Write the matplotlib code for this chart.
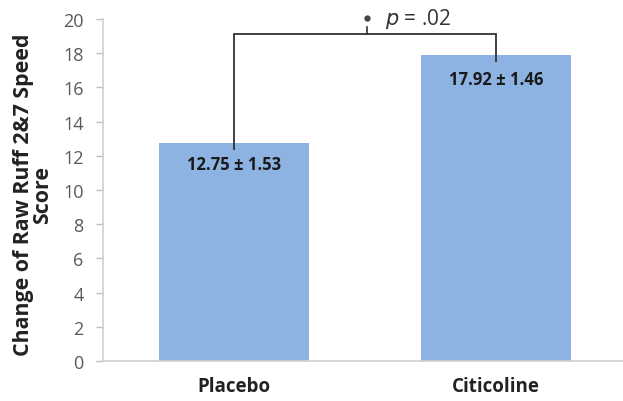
import matplotlib
matplotlib.use("Agg")
import matplotlib.pyplot as plt

categories = ["Placebo", "Citicoline"]
means = [12.75, 17.92]
sems = [1.53, 1.46]
value_labels = ["12.75 ± 1.53", "17.92 ± 1.46"]
yticks = [0, 2, 4, 6, 8, 10, 12, 14, 16, 18, 20]
p_text = "p = .02"

plt.rcParams['font.family'] = ['Open Sans', 'DejaVu Sans']

fig = plt.figure(figsize=(6.23, 4.02), dpi=100)
W, H = 623, 402
x0, x1 = 103, 623
y_top, y_bot = 20, 362
ax = fig.add_axes([x0 / W, 1 - y_bot / H, (x1 - x0) / W, (y_bot - y_top) / H])

xs = list(range(len(categories)))
ax.bar(xs, means, width=0.57, color="#8DB3E2", zorder=2)
ax.set_xlim(-0.5, 1.5 - 4 / 262)
ax.set_ylim(0, 20)
ax.set_yticks(yticks)
ax.set_yticklabels([str(t) for t in yticks], fontsize=13, color="#595959")
ax.set_xticks(xs)
ax.set_xticklabels(categories, fontsize=13.5, fontweight="bold", color="#222222")
ax.tick_params(axis="x", length=0, pad=11)
ax.tick_params(axis="y", length=5, color="#BFBFBF", width=1, pad=9)
for s in ["top", "right"]:
    ax.spines[s].set_visible(False)
for s in ["left", "bottom"]:
    ax.spines[s].set_color("#D0D0D0")
    ax.spines[s].set_linewidth(1.2)

fig.text(33 / W, 1 - 195 / H, "Change of Raw Ruff 2&7 Speed\nScore", rotation=90,
         ha="center", va="center", multialignment="center", fontsize=15.4,
         fontweight="bold", color="#222222", linespacing=0.9)

# value labels
offsets = [1.23, 1.43]
for x, m, off, lab in zip(xs, means, offsets, value_labels):
    ax.text(x, m - off, lab, ha="center", va="center", fontsize=12, fontweight="bold",
            color="#1a1a1a", zorder=4)

# significance bracket
yb = 19.1
ax.plot([xs[0], xs[0], xs[1], xs[1]], [means[0] - 0.35, yb, yb, means[1] - 0.35],
        color="#333333", lw=1.3, zorder=3, solid_joinstyle="miter")
xm = 0.508
ax.plot([xm, xm], [yb, yb + 0.45], color="#333333", lw=1.2, zorder=3)
ax.plot([xm], [yb + 0.95], marker="o", ms=3.5, color="#444444", zorder=3, clip_on=False)
ax.text(xm + 0.07, yb + 0.25, "$\\it{p}$ = .02", ha="left", va="bottom", fontsize=15,
        color="#333333")

fig.savefig("out.png", dpi=100)
